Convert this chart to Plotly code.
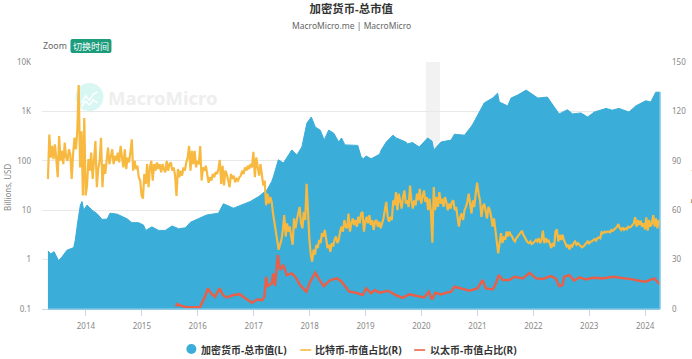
import pandas as pd
import plotly.graph_objects as go

TITLE = "加密货币-总市值"
SUBTITLE = "MacroMicro.me | MacroMicro"
NAME_CAP = "加密货币-总市值(L)"
NAME_BTC = "比特币-市值占比(R)"
NAME_ETH = "以太币-市值占比(R)"

cap_years = [2013.32,2013.37,2013.43,2013.51,2013.575,2013.66,2013.78,2013.81,2013.85,2013.90,2013.93,2013.96,2014.02,2014.11,2014.2,2014.29,2014.38,2014.43,2014.56,2014.735,2014.82,2014.94,2015.03,2015.07,2015.18,2015.3,2015.42,2015.54,2015.66,2015.78,2015.87,2016.04,2016.16,2016.37,2016.46,2016.64,2016.94,2017.09,2017.24,2017.32,2017.35,2017.44,2017.53,2017.68,2017.77,2017.86,2017.95,2018.03,2018.10,2018.19,2018.26,2018.34,2018.43,2018.52,2018.57,2018.63,2018.65,2018.86,2018.92,2018.96,2019.01,2019.10,2019.25,2019.28,2019.37,2019.49,2019.55,2019.72,2019.75,2019.84,2019.96,2020.11,2020.19,2020.22,2020.35,2020.53,2020.59,2020.77,2020.91,2021.03,2021.12,2021.27,2021.36,2021.39,2021.54,2021.6,2021.72,2021.87,2022.08,2022.25,2022.37,2022.46,2022.61,2022.7,2022.85,2022.97,2023.09,2023.3,2023.41,2023.53,2023.71,2023.83,2024.01,2024.1,2024.19,2024.265]
cap_values = [1.5,1.3,1.45,0.95,1.15,1.55,1.75,2.5,5.5,12.7,15,10,12.7,10,8.5,6.5,6.6,8.7,8.3,6.7,5.6,5.6,5,3.9,4.6,3.9,3.9,4.8,4.2,4.4,5.7,6.9,8,8.7,13.5,11,15,19,26,38,47,105,90,166,131,190,580,770,483,417,263,417,363,240,290,210,210,205,120,110,125,110,135,165,240,330,290,240,220,235,190,290,250,165,240,263,345,330,530,970,1480,1860,2340,1550,1290,1860,2150,2700,1860,1950,1240,890,1080,890,930,770,970,1150,1060,1150,970,1290,1640,1550,2450,2450]

# Bitcoin share, read every 0.025 year; each block starts at <year>.02 (2013 starts at .32)
btc_2013 = [79,106,92,99,91,100,91,80,105,90,96,88,101,92,90,97,94,79,94,104,97,108,136,86,108,69,116,69]
btc_2014 = [75,91,84,95,79,90,102,74,85,90,104,74,88,82,90,98,88,93,97,88,93,90,95,89,99,92,86,97,85,92,89,95,103,84,90,85,87,80,78,69]
btc_2015 = [67,82,76,88,74,86,90,78,88,84,89,85,88,83,88,85,83,90,84,88,89,84,86,81,68.6,85,80,84,81,86,84,89,92,99,84,96,88,96,86,90]
btc_2016 = [88,99,78,86,84,87,82,76.7,80,78,82,80,83,82,85,90.5,76,87,75,84,82,78,74,82,79,81,77,79,78,80,81,84,82,86,84,87,85,88,86,95.5]
btc_2017 = [80,92,85,81,88,80,75,78,63,70,64,68,65,58,52,46,40,36,39,42,48,57,44,52,47,50,44,39,55,49,54,58,62,52,49,59,54,76,56,42]
btc_2018 = [33,28.7,36,33,39,37,42,40,46,44,48,42,37,39,34.8,40,38,42,44,40,42,47,50,47,54,50,49,58,47,52,55,51,54,50,56,52,58,59,47,53]
btc_2019 = [56,52,57,51,54,48,53,54,50,53,49,52,55,60,65,56,53,56,54,66,63,71,60,70,64,61,68,72,64,66,62,75,66,61,66,63,70,66,73,64]
btc_2020 = [68,72,65,68,60,67,59,40.3,74,60,68,62,71,64,67,62,68,65,60,64,61,65,66,60,62,56,50,56,58,54,60,62,65,70,62,58,66,62,70,76.7]
btc_2021 = [70,66,56,62,64,58,55,62,60,56,50,55,46,41,33.8,42,46,40,44,42,47,44,47,45,44,42,41,43,44,45,46,47.4,45,43,42,40.5,40,41,39.5,40]
btc_2022 = [41,42,41,43,40,42,47.6,40,43,41,42,39,37,40,38,47,48.4,41,45,42,45,42,40,38,39,36.2,39,38,40,41,39,40,39,38,37.4,38,39,40,41,39.5]
btc_2023 = [41,41,42,42.5,41.5,43,43.5,43,46.6,46,47,46.5,47,47,46.5,48,47.5,48,49,50,51.6,49,48,49.5,48,49,48.5,50,49.5,50,51,52,55.7,50,54,51,53.6,50,52,48.4]
btc_2024 = [55.7,47.6,54,50,52,57,50,55,49,54,51]

eth_years = [2015.61,2015.63,2015.72,2015.81,2015.93,2016.04,2016.10,2016.13,2016.18,2016.24,2016.31,2016.39,2016.45,2016.52,2016.64,2016.75,2016.85,2016.97,2017.06,2017.15,2017.19,2017.22,2017.25,2017.32,2017.35,2017.38,2017.43,2017.47,2017.53,2017.59,2017.68,2017.74,2017.83,2017.94,2018.01,2018.10,2018.16,2018.25,2018.37,2018.49,2018.57,2018.65,2018.71,2018.83,2018.95,2019.01,2019.10,2019.16,2019.25,2019.40,2019.54,2019.66,2019.78,2019.90,2020.05,2020.13,2020.19,2020.25,2020.35,2020.44,2020.53,2020.59,2020.71,2020.86,2021.00,2021.09,2021.15,2021.27,2021.33,2021.38,2021.45,2021.57,2021.66,2021.81,2021.93,2022.05,2022.17,2022.31,2022.40,2022.46,2022.52,2022.55,2022.64,2022.73,2022.82,2022.94,2023.06,2023.24,2023.42,2023.59,2023.77,2023.89,2024.01,2024.16,2024.265]
eth_values = [1.4,3,1.8,1,1,1,5.4,7.5,12.5,9.5,7.4,12.5,8.5,7,8.5,9,6.5,3.8,5.8,5.4,7.4,19.6,14,15.5,21.6,14,32.8,23.6,26.7,20.6,21.6,19.6,14.5,10.5,16.6,22,18.6,13.9,17.6,18.6,16.6,13,10.5,9.9,8.5,12.5,9.5,11.5,9.9,11.1,8.5,6.8,8.9,8,7,10.5,5.8,9.9,8.9,9.9,10.5,13.5,12.5,11.1,12.5,17.6,12.5,11.9,15.5,20.6,17.6,17.6,19.6,18.6,22,18.6,18.2,20,18.6,14,14.5,19.6,20.6,17.2,19.2,18,19,18.6,19.6,19,18,17.2,16.6,18.6,15]

Y_TICKS = [0.1, 1, 10, 100, 1000, 10000]
Y_LABELS = ["0.1", "1", "10", "100", "1K", "10K"]
Y_LABEL_L = "Billions, USD"
Y_LABEL_R = "Percent"
RECESSION = (2020.08, 2020.33)
X_RANGE = (2013.214, 2024.265)

W, H = 692, 359
L, R, T, B = 41.5, 660.0, 62.0, 309.0
FONT = '"Noto Sans", "Noto Sans CJK SC", sans-serif'
BLUE, ORANGE, RED = "#3aadd9", "#f7b940", "#e8604a"


def dates(values):
    out = []
    for v in values:
        y = int(v)
        start = pd.Timestamp(year=y, month=1, day=1)
        out.append(start + pd.Timedelta(days=(v - y) * 365.25))
    return out


btc_years, btc_values = [], []
for first, block in [(2013.32, btc_2013), (2014.02, btc_2014), (2015.02, btc_2015), (2016.02, btc_2016),
                     (2017.02, btc_2017), (2018.02, btc_2018), (2019.02, btc_2019), (2020.02, btc_2020),
                     (2021.02, btc_2021), (2022.02, btc_2022), (2023.02, btc_2023), (2024.02, btc_2024)]:
    for i, value in enumerate(block):
        btc_years.append(first + 0.025 * i)
        btc_values.append(value)


def px(x):
    return (x - L) / (R - L)


def py(y):
    return (B - y) / (B - T)


def path(points):
    return "M " + " L ".join(f"{px(a):.5f},{py(b):.5f}" for a, b in points)


def text(x, y, s, size, color, anchor="left", bold=False, angle=0):
    return dict(x=px(x), y=py(y), xref="paper", yref="paper", text=f"<b>{s}</b>" if bold else s,
                showarrow=False, xanchor=anchor, yanchor="middle", textangle=angle, borderpad=0,
                font=dict(size=size, color=color, family=FONT))


fig = go.Figure()
fig.add_trace(go.Scatter(x=dates(cap_years), y=cap_values, name=NAME_CAP, mode="lines", fill="tozeroy",
                         fillcolor=BLUE, line=dict(color=BLUE, width=1), yaxis="y", showlegend=False))
fig.add_trace(go.Scatter(x=dates(btc_years), y=btc_values, name=NAME_BTC, mode="lines",
                         line=dict(color=ORANGE, width=2.2), yaxis="y2", showlegend=False))
fig.add_trace(go.Scatter(x=dates(eth_years), y=eth_values, name=NAME_ETH, mode="lines",
                         line=dict(color=RED, width=2.5), yaxis="y2", showlegend=False))

shapes = [
    dict(type="rect", xref="x", yref="paper", x0=dates([RECESSION[0]])[0], x1=dates([RECESSION[1]])[0],
         y0=0, y1=1, fillcolor="#f2f2f2", line_width=0, layer="below"),
    dict(type="circle", xref="paper", yref="paper", x0=px(75), x1=px(103), y0=py(111), y1=py(83),
         fillcolor="#d9f7f2", line_width=0, layer="below"),
    dict(type="path", xref="paper", yref="paper", layer="below", line=dict(color="white", width=1.5),
         path=path([(81, 103), (85, 96), (89, 100), (93, 94), (97, 92)])),
    dict(type="path", xref="paper", yref="paper", layer="below", line=dict(color="white", width=1.5),
         path=path([(81, 107), (85, 101), (89, 105), (93, 100), (97, 103)])),
    dict(type="line", xref="paper", yref="paper", x0=px(47.5), x1=px(660), y0=0, y1=0,
         line=dict(color="#7cc6e6", width=1.5), layer="above"),
    dict(type="line", xref="paper", yref="paper", x0=1, x1=1, y0=py(92), y1=0,
         line=dict(color="#7cc6e6", width=1.5), layer="above"),
    dict(type="path", xref="paper", yref="paper", fillcolor="#1b9c7b", line_width=0, layer="above",
         path=f"M {px(72):.5f},{py(39):.5f} L {px(109):.5f},{py(39):.5f} Q {px(111):.5f},{py(39):.5f} {px(111):.5f},{py(41):.5f} "
              f"L {px(111):.5f},{py(51):.5f} Q {px(111):.5f},{py(53):.5f} {px(109):.5f},{py(53):.5f} "
              f"L {px(72):.5f},{py(53):.5f} Q {px(70):.5f},{py(53):.5f} {px(70):.5f},{py(51):.5f} "
              f"L {px(70):.5f},{py(41):.5f} Q {px(70):.5f},{py(39):.5f} {px(72):.5f},{py(39):.5f} Z"),
    dict(type="circle", xref="paper", yref="paper", x0=px(186), x1=px(196), y0=py(354), y1=py(344),
         fillcolor=BLUE, line_width=0),
    dict(type="line", xref="paper", yref="paper", x0=px(300), x1=px(311), y0=py(350), y1=py(350),
         line=dict(color="#fbc766", width=2)),
    dict(type="line", xref="paper", yref="paper", x0=px(414), x1=px(425), y0=py(350), y1=py(350),
         line=dict(color="#f28170", width=2)),
]

annotations = [
    text(351, 25, SUBTITLE, 8.5, "#666666", anchor="center"),
    text(41.5, 46, "Zoom", 8.8, "#666666"),
    text(90.5, 46.5, "切换时间", 9, "#ffffff", anchor="center"),
    text(107, 97.5, "MacroMicro", 18.5, "#eeeeee", bold=True),
    text(7, 187.5, Y_LABEL_L, 8, "#888888", anchor="center", angle=-90),
    text(695, 186, Y_LABEL_R, 10, "#a58a6a", anchor="center", angle=-90),
    text(199.5, 349.5, NAME_CAP, 10, "#333333", bold=True),
    text(313.5, 349.5, NAME_BTC, 10, "#333333", bold=True),
    text(428.5, 349.5, NAME_ETH, 10, "#333333", bold=True),
]

fig.update_layout(
    width=W, height=H, margin=dict(l=L, r=W - R, t=T, b=H - B, pad=0, autoexpand=False),
    paper_bgcolor="white", plot_bgcolor="white", showlegend=False,
    font=dict(family=FONT, size=8, color="#888888"),
    title=dict(text=f"<b>{TITLE}</b>", x=(351 - L) / (R - L), xanchor="center", xref="paper", y=1 - 9 / H, yanchor="middle",
               font=dict(size=11.4, color="#333333", family=FONT)),
    xaxis=dict(type="date", range=dates(list(X_RANGE)), dtick="M12", tick0="2014-01-01", tickformat="%Y",
               showgrid=False, showline=True, linecolor="#ccd6eb", linewidth=1, ticks="outside", ticklen=6,
               tickcolor="#ccd6eb", ticklabelstandoff=3, tickfont=dict(size=8, color="#888888"), zeroline=False),
    yaxis=dict(type="log", range=[-1, 4], tickvals=Y_TICKS, ticktext=Y_LABELS, showgrid=True, gridcolor="#e8e8e8",
               gridwidth=1, showline=False, ticks="", ticklabelstandoff=10, zeroline=False,
               tickfont=dict(size=8, color="#888888")),
    yaxis2=dict(overlaying="y", side="right", range=[0, 150], dtick=30, showgrid=False, showline=False, ticks="",
                ticklabelstandoff=11, zeroline=False, tickfont=dict(size=8, color="#888888")),
    shapes=shapes, annotations=annotations, hovermode=False,
)

fig.write_html("out.html", config={"displayModeBar": False},
               post_script="document.body.style.margin='0';document.body.style.overflow='hidden';")
